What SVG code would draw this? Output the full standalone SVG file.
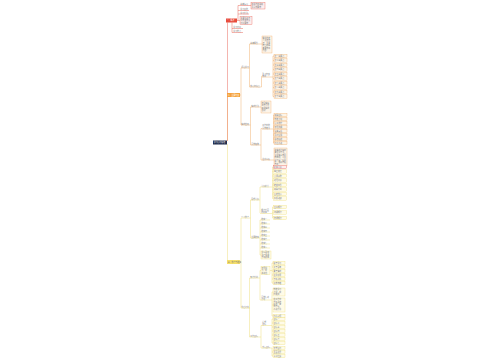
<svg xmlns="http://www.w3.org/2000/svg" width="500" height="360" viewBox="0 0 500 360">
<style>
text{font-family:"Noto Sans CJK SC","Noto Sans",sans-serif;font-size:1.9px;fill:#777}
.w{fill:#fff}
.ln{fill:none;stroke-width:0.45}
.r{stroke:#e65a4c}.o{stroke:#f0aa62}.y{stroke:#eedc72}
.br{fill:#fdeeee;stroke:#e65a4c;stroke-width:0.35}
.bo{fill:#fdf4e8;stroke:#f0aa62;stroke-width:0.35}
.by{fill:#fffbe8;stroke:#eedc72;stroke-width:0.35}
</style>
<rect width="500" height="360" fill="#fff"/>
<g id="connectors">
<path class="ln r" d="M227.5,141 V22.5"/>
<path class="ln o" d="M227.5,141 V97"/>
<path class="ln y" d="M227.5,144 V260"/>
<path class="ln r" d="M237,20.5 H238 V5.5 H240 M238,10.5 H240 M238,14 H240 M238,20.5 H240 M232,22.5 V32.5 H233 M232,28.5 H233 M249,5.5 H251"/>
<path class="ln o" d="M240,95 H241 M241,68 V125 M249,68 H249.5 M249.5,44 V87 H250 M249.5,44 H250 M258,44 H262 M261,87 H261.5 V76.5 H262 M272,77 H273 V56 M273,77 V96.5 M273,56 H274 M273,60.5 H274 M273,65 H274 M273,69.5 H274 M273,74 H274 M273,78.5 H274 M273,83 H274 M273,87.5 H274 M273,92 H274 M273,96.5 H274"/>
<path class="ln o" d="M250,125 H250.5 M250.5,107 V145 H251 M250.5,107 H251 M259,107 H261 M260,145 H261 V128.5 H262 M261,145 V160 H262 M273,129 H273.5 V115 M273.5,129 V143 M273.5,115 H274 M273.5,119 H274 M273.5,123 H274 M273.5,127 H274 M273.5,131 H274 M273.5,135 H274 M273.5,139 H274 M273.5,143 H274 M272,160 H274"/>
<path class="ln y" d="M240,262 H241 M241,218 V308 M250,218 H250.5 M250.5,200 V238 H251 M250.5,200 H251 M259,200 H260 M260,187 V213 M260,187 H261 M260,213.5 H261 M271,187 H272.5 V167 M272.5,187 V198.5 M272.5,167 H273.5 M272.5,171.5 H273.5 M272.5,176 H273.5 M272.5,180.5 H273.5 M272.5,185 H273.5 M272.5,189.5 H273.5 M272.5,194 H273.5 M272.5,198.5 H273.5 M271,213.5 H272.5 V207 M272.5,213.5 V218 M272.5,207 H273.5 M272.5,212.5 H273.5 M272.5,218 H273.5"/>
<path class="ln y" d="M259,238 H260 V220 M260,238 V255 M260,220 H261 M260,224 H261 M260,228 H261 M260,232 H261 M260,236 H261 M260,240 H261 M260,244 H261 M260,248 H261 M260,255 H261"/>
<path class="ln y" d="M250,308 H249.5 M249.5,278 V337 H250 M249.5,278 H250 M258,278 H260 V270.5 M260,278 V300 H261 M260,270.5 H261 M270,270.5 H272 V263 M272,270.5 V283 M272,263 H273 M272,267 H273 M272,271 H273 M272,275 H273 M272,279 H273 M272,283 H273 M271,300 H272 V292 M272,300 V316 M272,292 H273 M272,305 H273 M272,316 H273"/>
<path class="ln y" d="M260,337 H261 V325.5 H262 M261,337 V348 H262 M270,325.5 H272 V319 M272,325.5 V343 M272,319 H273 M272,323 H273 M272,327 H273 M272,331 H273 M272,335 H273 M272,339 H273 M272,343 H273 M270,348 H272 V356 M272,352 H273 M272,356 H273"/>
</g>
<g id="root"><rect x="213" y="140.5" width="14" height="4" fill="#1f2c4c"/><text class="w" x="213.8" y="143.2">学习心得总结</text></g>
<g id="n-red"><rect x="226" y="18.5" width="11" height="4" fill="#e84c3d"/><text class="w" x="226.8" y="21.2">一、概述</text></g>
<g id="n-orange"><rect x="227" y="93" width="13" height="4" fill="#f5a23c"/><text class="w" x="227.8" y="95.7">二、主要内容</text></g>
<g id="n-yellow"><rect x="227" y="260" width="13" height="4" fill="#f6e06a"/><text x="227.8" y="262.7">三、体会与收获</text></g>
<g id="r1"><text x="240.3" y="5">基本情况</text><path class="ln r" d="M240,5.5 H249"/></g>
<g id="r1a"><rect class="br" x="251" y="2.5" width="14" height="6.5"/><text x="251.6" y="5">相关内容说明</text><text x="251.6" y="7.6">及具体要求</text></g>
<g id="r2"><text x="240.3" y="10">学习目的</text><path class="ln r" d="M240,10.5 H249"/></g>
<g id="r3"><text x="240.3" y="13.5">学习方法</text><path class="ln r" d="M240,14 H249"/></g>
<g id="r4"><rect class="br" x="240" y="16.5" width="12" height="8"/><text x="240.6" y="19">主要任务与</text><text x="240.6" y="21.3">具体安排及</text><text x="240.6" y="23.6">时间要求</text></g>
<g id="r5"><text x="233.3" y="28">学习时间</text><path class="ln r" d="M233,28.5 H243"/></g>
<g id="r6"><text x="233.3" y="32">学习地点</text><path class="ln r" d="M233,32.5 H243"/></g>
<g id="o1"><text x="241.3" y="67.5">理论学习</text><path class="ln o" d="M241,68 H249"/></g>
<g id="o1a"><text x="250.3" y="43.5">基本概念</text><path class="ln o" d="M250,44 H258"/></g>
<g id="o1a1"><rect class="bo" x="262" y="36" width="10" height="17"/><text x="262.5" y="38.5">概念的定</text><text x="262.5" y="41">义及其内</text><text x="262.5" y="43.5">涵，主要</text><text x="262.5" y="46">特点和基</text><text x="262.5" y="48.5">本要求等</text><text x="262.5" y="51">内容</text></g>
<g id="o1b"><text x="250.3" y="86.5">核心知识点</text><path class="ln o" d="M250,87 H261"/></g>
<g id="o1b1"><text x="262.3" y="74.5">重点内容</text><text x="262.3" y="76.8">梳理</text><path class="ln o" d="M262,77 H272"/></g>
<g id="o1b1-1"><rect class="bo" x="274" y="54.3" width="13" height="3.4"/><text x="274.6" y="56.7">第一条要点</text></g>
<g id="o1b1-2"><rect class="bo" x="274" y="58.8" width="13" height="3.4"/><text x="274.6" y="61.2">第二条要点</text></g>
<g id="o1b1-3"><rect class="bo" x="274" y="63.3" width="13" height="3.4"/><text x="274.6" y="65.7">第三条要点</text></g>
<g id="o1b1-4"><rect class="bo" x="274" y="67.8" width="13" height="3.4"/><text x="274.6" y="70.2">第四条要点</text></g>
<g id="o1b1-5"><rect class="bo" x="274" y="72.3" width="13" height="3.4"/><text x="274.6" y="74.7">第五条要点</text></g>
<g id="o1b1-6"><rect class="bo" x="274" y="76.8" width="13" height="3.4"/><text x="274.6" y="79.2">第六条要点</text></g>
<g id="o1b1-7"><rect class="bo" x="274" y="81.3" width="13" height="3.4"/><text x="274.6" y="83.7">第七条要点</text></g>
<g id="o1b1-8"><rect class="bo" x="274" y="85.8" width="13" height="3.4"/><text x="274.6" y="88.2">第八条要点</text></g>
<g id="o1b1-9"><rect class="bo" x="274" y="90.3" width="13" height="3.4"/><text x="274.6" y="92.7">第九条要点</text></g>
<g id="o1b1-10"><rect class="bo" x="274" y="94.8" width="13" height="3.4"/><text x="274.6" y="97.2">第十条要点</text></g>
<g id="o2"><text x="241.3" y="124.5">实践应用</text><path class="ln o" d="M241,125 H250"/></g>
<g id="o2a"><text x="251.3" y="106.5">实践方法</text><path class="ln o" d="M251,107 H259"/></g>
<g id="o2a1"><rect class="bo" x="261" y="101" width="10" height="12"/><text x="261.5" y="103.5">结合实际</text><text x="261.5" y="106">工作开展</text><text x="261.5" y="108.5">相关实践</text><text x="261.5" y="111">活动</text></g>
<g id="o2b"><text x="251.3" y="144.5">具体措施</text><path class="ln o" d="M251,145 H260"/></g>
<g id="o2b1"><text x="262.3" y="126.3">工作中的</text><text x="262.3" y="128.6">具体做法</text><path class="ln o" d="M262,129 H273"/></g>
<g id="o2b1-1"><rect class="bo" x="274" y="113.3" width="13" height="3.4"/><text x="274.6" y="115.7">明确目标</text></g>
<g id="o2b1-2"><rect class="bo" x="274" y="117.3" width="13" height="3.4"/><text x="274.6" y="119.7">制定计划</text></g>
<g id="o2b1-3"><rect class="bo" x="274" y="121.3" width="13" height="3.4"/><text x="274.6" y="123.7">分工协作</text></g>
<g id="o2b1-4"><rect class="bo" x="274" y="125.3" width="13" height="3.4"/><text x="274.6" y="127.7">加强沟通</text></g>
<g id="o2b1-5"><rect class="bo" x="274" y="129.3" width="13" height="3.4"/><text x="274.6" y="131.7">落实责任</text></g>
<g id="o2b1-6"><rect class="bo" x="274" y="133.3" width="13" height="3.4"/><text x="274.6" y="135.7">及时反馈</text></g>
<g id="o2b1-7"><rect class="bo" x="274" y="137.3" width="13" height="3.4"/><text x="274.6" y="139.7">总结经验</text></g>
<g id="o2b1-8"><rect class="bo" x="274" y="141.3" width="13" height="3.4"/><text x="274.6" y="143.7">持续改进</text></g>
<g id="o2b2"><text x="262.3" y="159.5">注意事项</text><path class="ln o" d="M262,160 H272"/></g>
<g id="o2b2-1"><rect class="bo" x="274" y="148" width="13" height="18"/><text x="274.6" y="150.5">在实践过程中</text><text x="274.6" y="153">要注意方法，</text><text x="274.6" y="155.5">坚持实事求是</text><text x="274.6" y="158">的原则，认真</text><text x="274.6" y="160.5">对待每一项工</text><text x="274.6" y="163">作，做到有始</text><text x="274.6" y="165.3">有终</text></g>
<g id="y1"><text x="241.3" y="217.5">个人体会</text><path class="ln y" d="M241,218 H250"/></g>
<g id="y1a"><text x="251.3" y="199.5">思想认识</text><path class="ln y" d="M251,200 H259"/></g>
<g id="y1a1"><text x="261.3" y="186.5">认识提升</text><path class="ln y" d="M261,187 H271"/></g>
<g id="y1a1-1"><rect class="br" x="273.5" y="165.3" width="13" height="3.4"/><text x="274.1" y="167.7">提高认识</text></g>
<g id="y1a1-2"><rect class="by" x="273.5" y="169.8" width="13" height="3.4"/><text x="274.1" y="172.2">端正态度</text></g>
<g id="y1a1-3"><rect class="by" x="273.5" y="174.3" width="13" height="3.4"/><text x="274.1" y="176.7">开阔视野</text></g>
<g id="y1a1-4"><rect class="by" x="273.5" y="178.8" width="13" height="3.4"/><text x="274.1" y="181.2">增强意识</text></g>
<g id="y1a1-5"><rect class="by" x="273.5" y="183.3" width="13" height="3.4"/><text x="274.1" y="185.7">转变观念</text></g>
<g id="y1a1-6"><rect class="by" x="273.5" y="187.8" width="13" height="3.4"/><text x="274.1" y="190.2">明确方向</text></g>
<g id="y1a1-7"><rect class="by" x="273.5" y="192.3" width="13" height="3.4"/><text x="274.1" y="194.7">坚定信心</text></g>
<g id="y1a1-8"><rect class="by" x="273.5" y="196.8" width="13" height="3.4"/><text x="274.1" y="199.2">积极进取</text></g>
<g id="y1a2"><text x="261.3" y="211">能力方面</text><text x="261.3" y="213.2">的提高</text><path class="ln y" d="M261,213.5 H271"/></g>
<g id="y1a2-1"><rect class="by" x="273.5" y="205.3" width="13" height="3.4"/><text x="274.1" y="207.7">业务能力</text></g>
<g id="y1a2-2"><rect class="by" x="273.5" y="210.8" width="13" height="3.4"/><text x="274.1" y="213.2">沟通能力</text></g>
<g id="y1a2-3"><rect class="by" x="273.5" y="216.3" width="13" height="3.4"/><text x="274.1" y="218.7">协调能力</text></g>
<g id="y1b"><text x="251.3" y="237.5">主要收获</text><path class="ln y" d="M251,238 H259"/></g>
<g id="y1b-1"><text x="261.3" y="219.5">收获一</text><path class="ln y" d="M261,220 H270"/></g>
<g id="y1b-2"><text x="261.3" y="223.5">收获二</text><path class="ln y" d="M261,224 H270"/></g>
<g id="y1b-3"><text x="261.3" y="227.5">收获三</text><path class="ln y" d="M261,228 H270"/></g>
<g id="y1b-4"><text x="261.3" y="231.5">收获四</text><path class="ln y" d="M261,232 H270"/></g>
<g id="y1b-5"><text x="261.3" y="235.5">收获五</text><path class="ln y" d="M261,236 H270"/></g>
<g id="y1b-6"><text x="261.3" y="239.5">收获六</text><path class="ln y" d="M261,240 H270"/></g>
<g id="y1b-7"><text x="261.3" y="243.5">收获七</text><path class="ln y" d="M261,244 H270"/></g>
<g id="y1b-8"><text x="261.3" y="247.5">收获八</text><path class="ln y" d="M261,248 H270"/></g>
<g id="y1b-9"><rect class="by" x="261" y="251" width="10" height="8"/><text x="261.5" y="253.4">学以致用</text><text x="261.5" y="255.7">融会贯通</text><text x="261.5" y="258">不断提高</text></g>
<g id="y2"><text x="241.3" y="307.5">今后打算</text><path class="ln y" d="M241,308 H250"/></g>
<g id="y2a"><text x="250.3" y="277.5">努力方向</text><path class="ln y" d="M250,278 H258"/></g>
<g id="y2a1"><rect class="by" x="261" y="266.5" width="9" height="8"/><text x="261.5" y="268.9">加强学</text><text x="261.5" y="271.2">习，提</text><text x="261.5" y="273.5">高素质</text></g>
<g id="y2a1-1"><rect class="by" x="273" y="261.3" width="12" height="3.4"/><text x="273.6" y="263.7">勤于学习</text></g>
<g id="y2a1-2"><rect class="by" x="273" y="265.3" width="12" height="3.4"/><text x="273.6" y="267.7">善于思考</text></g>
<g id="y2a1-3"><rect class="by" x="273" y="269.3" width="12" height="3.4"/><text x="273.6" y="271.7">勇于实践</text></g>
<g id="y2a1-4"><rect class="by" x="273" y="273.3" width="12" height="3.4"/><text x="273.6" y="275.7">注重积累</text></g>
<g id="y2a1-5"><rect class="by" x="273" y="277.3" width="12" height="3.4"/><text x="273.6" y="279.7">不断创新</text></g>
<g id="y2a1-6"><rect class="by" x="273" y="281.3" width="12" height="3.4"/><text x="273.6" y="283.7">追求卓越</text></g>
<g id="y2a2"><text x="261.3" y="297.8">具体行动</text><text x="261.3" y="299.8">计划</text><path class="ln y" d="M261,300 H271"/></g>
<g id="y2a2-1"><rect class="by" x="273" y="288" width="12" height="8"/><text x="273.6" y="290.4">制定学习</text><text x="273.6" y="292.7">计划，按</text><text x="273.6" y="295">时完成</text></g>
<g id="y2a2-2"><rect class="by" x="273" y="298" width="12" height="14"/><text x="273.6" y="300.4">在工作中</text><text x="273.6" y="302.7">不断总结</text><text x="273.6" y="305">经验，查</text><text x="273.6" y="307.3">找不足，</text><text x="273.6" y="309.6">改进方法</text></g>
<g id="y2a2-3"><rect class="by" x="273" y="314.3" width="12" height="3.4"/><text x="273.6" y="316.7">持之以恒</text></g>
<g id="y2b"><text x="250.3" y="336.5">工作目标</text><path class="ln y" d="M250,337 H260"/></g>
<g id="y2b1"><text x="262.3" y="323.2">近期</text><text x="262.3" y="325.3">目标</text><path class="ln y" d="M262,325.5 H270"/></g>
<g id="y2b1-1"><rect class="by" x="273" y="317.6" width="12" height="3"/><text x="273.6" y="319.7">目标一</text></g>
<g id="y2b1-2"><rect class="by" x="273" y="321.5" width="12" height="3"/><text x="273.6" y="323.7">目标二</text></g>
<g id="y2b1-3"><rect class="by" x="273" y="325.5" width="12" height="3"/><text x="273.6" y="327.7">目标三</text></g>
<g id="y2b1-4"><rect class="by" x="273" y="329.5" width="12" height="3"/><text x="273.6" y="331.7">目标四</text></g>
<g id="y2b1-5"><rect class="by" x="273" y="333.5" width="12" height="3"/><text x="273.6" y="335.7">目标五</text></g>
<g id="y2b1-6"><rect class="by" x="273" y="337.5" width="12" height="3"/><text x="273.6" y="339.7">目标六</text></g>
<g id="y2b1-7"><rect class="by" x="273" y="341.5" width="12" height="3"/><text x="273.6" y="343.7">目标七</text></g>
<g id="y2b2"><text x="262.3" y="347.5">长远目标</text><path class="ln y" d="M262,348 H270"/></g>
<g id="y2b2-1"><rect class="by" x="273" y="346.5" width="12" height="3"/><text x="273.6" y="348.7">长期坚持</text></g>
<g id="y2b2-2"><rect class="by" x="273" y="350.5" width="12" height="3"/><text x="273.6" y="352.7">全面发展</text></g>
<g id="y2b2-3"><rect class="by" x="273" y="354.5" width="12" height="3"/><text x="273.6" y="356.7">争创佳绩</text></g>
</svg>
